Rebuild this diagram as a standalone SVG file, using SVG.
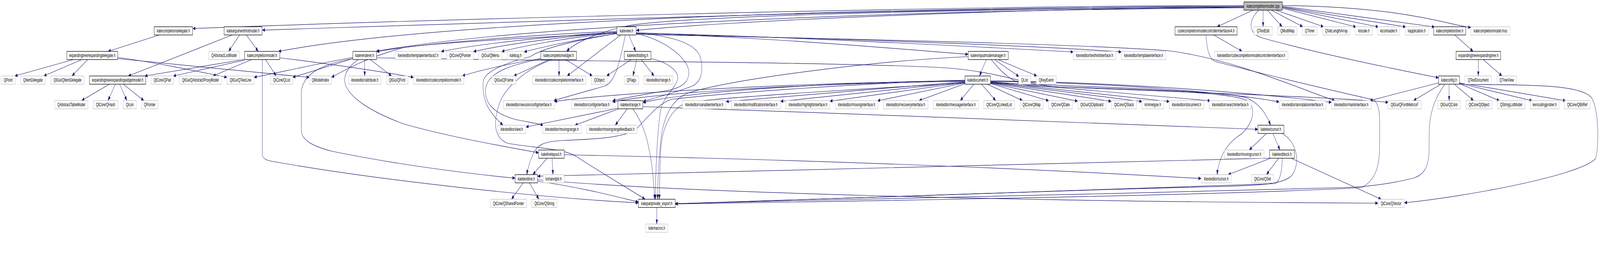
<svg xmlns="http://www.w3.org/2000/svg" width="7138" height="709" viewBox="0 0 7138 709" preserveAspectRatio="none">
<style>
svg{width:100%;height:100%}
.n rect{fill:#fff;stroke:#bfbfbf;stroke-width:1.3}
.b rect{stroke:#000}
.r rect{fill:#bfbfbf;stroke:#000}
text{font-family:"Liberation Sans",Arial,Helvetica,sans-serif;font-size:13px;text-anchor:middle;fill:#000}
.e path{fill:none;stroke:#191970;stroke-width:1.2;marker-end:url(#ah)}
</style>
<defs>
<marker id="ah" viewBox="0 0 12 9" markerWidth="12" markerHeight="9" refX="12" refY="4.5" orient="auto" markerUnits="userSpaceOnUse"><path d="M0,0 L12,4.5 L0,9 z" fill="#191970" stroke="#191970" stroke-width="0.5"/></marker>
</defs>
<rect width="7138" height="709" fill="#fff"/>
<g id="edges" class="e">
<path d="M5549,17 C3600,20 1900,60 1242,131.5"/>
<path d="M5635,26 L5635,68.5"/>
<path d="M5654,26 L5720,68.5"/>
<path d="M5672,26 L5812,68.5"/>
<path d="M5692,26 L5905,68.5"/>
<path d="M5721,21 L6050,69"/>
<path d="M5721,19 L6150,69"/>
<path d="M5721,18 L6272,69"/>
<path d="M5721,16 L6400,69"/>
<path d="M5721,14 C6300,18 6480,68 6562,70"/>
<path d="M5549,19 C4000,24 3000,45 2800,66 C2650,85 2560,112 2528,131.5"/>
<path d="M5549,14 C4200,15 1900,50 860,73"/>
<path d="M5549,16 C4200,18 2000,62 1170,77"/>
<path d="M5549,18 C4500,22 3200,55 2839,78"/>
<path d="M5549,20 C4000,26 2300,65 1678,131.5"/>
<path d="M5616,26 C5570,50 5565,85 5630,97 C5900,140 6250,180 6418,199"/>
<path d="M5590,26 L5430,68.5"/>
<path d="M711,89.5 L482,131.5"/>
<path d="M327,152.5 L66,194.5"/>
<path d="M365,152.5 L195,194.5"/>
<path d="M391,152.5 L321,194.5"/>
<path d="M525,147 C700,160 900,185 1013,198"/>
<path d="M525,150 C800,165 1200,190 1380,198"/>
<path d="M1069,89.5 L1020,131.5"/>
<path d="M1099,89.5 L1152,131.5"/>
<path d="M1036,89.5 L572,194.5"/>
<path d="M1091,152 L646,194.5"/>
<path d="M1091,154 L773,194.5"/>
<path d="M1122,152.5 L950,194.5"/>
<path d="M1185,152.5 L1232,194.5"/>
<path d="M1248,148 C1500,165 1750,188 1845,198"/>
<path d="M1170,152.5 L1170,394 C1170,405 1185,410 1215,413 C1700,463 2450,508 2848,519"/>
<path d="M488,215.5 L364,257.5"/>
<path d="M515,215.5 L482,257.5"/>
<path d="M534,215.5 L566,257.5"/>
<path d="M550,215.5 L642,257.5"/>
<path d="M1627,152.5 L1627,194.5"/>
<path d="M1652,152.5 L1747,194.5"/>
<path d="M1574,150 L1306,198"/>
<path d="M1574,147 C1400,165 1250,185 1133,198"/>
<path d="M1598,152.5 C1555,170 1530,190 1540,215 C1560,250 1650,285 1800,317 C2000,350 2250,375 2403,391"/>
<path d="M1574,150 C1430,165 1345,190 1344,240 L1344,333 C1345,360 1400,375 1480,387 C1800,425 2150,448 2298,456"/>
<path d="M1680,148 C2600,158 3700,158 4200,173 C4450,182 4560,214 4700,222 C5300,236 6000,250 6194,262"/>
<path d="M2450,152.5 L2292,194.5"/>
<path d="M2413,150 C2300,160 2150,178 2062,194.5"/>
<path d="M2494,152.5 L2494,194.5"/>
<path d="M2523,152.5 L2643,194.5"/>
<path d="M2413,151 C2290,165 2180,182 2167,225 C2158,262 2200,290 2300,306 C2370,314 2405,316 2424,321.5"/>
<path d="M2463,152.5 C2340,178 2255,225 2230,262 C2200,310 2200,352 2265,367 C2400,380 2520,380 2575,402 C2690,445 2810,485 2878,510"/>
<path d="M2752,86 C2600,100 2420,122 2366,145 C2250,162 2170,182 2157,205 C2150,235 2162,262 2185,282 C2205,300 2228,312 2244,320.5"/>
<path d="M2838,84 C3600,96 4300,118 4788,133"/>
<path d="M2838,86 C3700,98 4600,116 5003,133"/>
<path d="M2752,82 C2400,95 2100,116 1968,132"/>
<path d="M2752,83 C2450,96 2220,118 2112,132"/>
<path d="M2752,84 C2500,98 2320,120 2238,132"/>
<path d="M2752,86 C2560,102 2400,123 2338,133"/>
<path d="M2752,85 C2300,98 1900,112 1800,122 C1650,145 1550,175 1479,198"/>
<path d="M2769,89.5 L2530,194.5"/>
<path d="M2790,89.5 C2765,160 2745,208 2700,220 C2600,236 2510,250 2470,258"/>
<path d="M2805,89.5 L2836,131.5"/>
<path d="M2838,86 C2960,100 3078,150 3073,188 C3070,205 3060,218 3000,229 C2900,240 2780,250 2733,258"/>
<path d="M2838,84 C3000,92 3112,112 3126,150 C3140,185 3125,210 3090,220 C3000,240 2920,250 2869,260"/>
<path d="M2838,85 C3500,98 4000,125 4319,139"/>
<path d="M2752,80 C2400,88 1900,110 1680,132"/>
<path d="M2838,88 C3800,100 4800,112 5213,130 C5500,150 5800,228 5955,257.5"/>
<path d="M2816,152.5 L2706,194.5"/>
<path d="M2840,152.5 L2824,194.5"/>
<path d="M2861,152.5 L2918,194.5"/>
<path d="M2904,150 C2985,160 3035,185 3022,205 C3010,228 2962,245 2948,280 C2932,330 2924,450 2924,510"/>
<path d="M4400,152.5 L4370,194.5"/>
<path d="M4437,152.5 L4546,196"/>
<path d="M4452,152.5 L4626,194.5"/>
<path d="M4422,152.5 C4470,185 4510,212 4600,220 C5000,228 5450,232 5560,256 C5615,275 5585,328 5520,350 C5462,375 5436,410 5430,447"/>
<path d="M4319,145 C3900,156 3300,200 3080,236 C2995,252 2962,300 2950,350 C2940,400 2934,460 2934,510"/>
<path d="M4345,215.5 L4284,257.5"/>
<path d="M4305,214 L4100,257.5"/>
<path d="M4305,212 L3914,258"/>
<path d="M4305,211 L3702,259"/>
<path d="M4305,210 L3482,259.5"/>
<path d="M4305,209 L3239,260"/>
<path d="M4305,208 C3500,215 2900,240 2733,261"/>
<path d="M4305,207 C3500,212 2700,240 2473,260"/>
<path d="M4305,206 C3600,212 3000,240 2869,263"/>
<path d="M4305,205 C3800,214 3200,240 3000,254 C2950,260 2900,292 2840,330 C2780,356 2600,357 2500,360 C2420,363 2398,372 2380,392 C2364,412 2355,430 2350,447"/>
<path d="M4305,213 C3900,225 3200,250 3070,262 C2990,275 2955,330 2948,380 C2944,430 2942,470 2942,510"/>
<path d="M4419,212 C4800,220 5450,232 5560,250 C5620,265 5650,292 5668,320.5"/>
<path d="M4379,215.5 L4442,257.5"/>
<path d="M4404,215.5 L4562,257.5"/>
<path d="M4419,214 L4679,258"/>
<path d="M4419,213 L4808,259"/>
<path d="M4419,212 L4958,259.5"/>
<path d="M4419,211 L5095,260"/>
<path d="M4419,210 L5217,260"/>
<path d="M4419,209 L5400,258"/>
<path d="M4419,208 C5000,213 5500,238 5707,261"/>
<path d="M4419,207 C5000,210 5600,238 5940,262"/>
<path d="M6418,212 L6111,257.5"/>
<path d="M6428,215.5 L6306,257.5"/>
<path d="M6465,215.5 L6465,257.5"/>
<path d="M6488,215.5 L6574,257.5"/>
<path d="M6511,214 L6690,258"/>
<path d="M6511,213 L6836,258"/>
<path d="M6511,212 L6986,258"/>
<path d="M6511,216 C6800,218 7050,214 7100,250 C7136,282 7132,382 7118,406 C7050,450 6520,505 6265,519"/>
<path d="M6446,215.5 C6392,258 6376,300 6376,340 C6376,400 6382,442 6306,456 C6200,471 6100,478 6000,480 C5000,495 3600,515 3012,521"/>
<path d="M6595,152.5 L6595,194.5"/>
<path d="M6617,152.5 L6701,194.5"/>
<path d="M6490,89.5 L6572,131.5"/>
<path d="M5415,89.5 L5541,131.5"/>
<path d="M5380,89.5 C5385,130 5395,150 5420,157 C5700,200 6050,245 6130,256 C6158,272 6155,300 6155,340 C6155,400 6160,452 6077,480 C5500,500 3600,517 3012,522"/>
<path d="M5650,341.5 L5573,384"/>
<path d="M5679,341.5 L5710,384"/>
<path d="M5720,341.5 C5790,365 5802,420 5762,450 C5722,470 5650,475 5400,478 C4500,490 3500,515 3012,521.5"/>
<path d="M5668,405 L5479,447"/>
<path d="M5704,405 L5650,447"/>
<path d="M5664,405 C5000,424 3500,432 2398,451"/>
<path d="M5720,405 C5720,432 5714,460 5690,470 C5500,481 4500,501 3012,522"/>
<path d="M5760,405 L6162,510"/>
<path d="M2463,405 L2467,447"/>
<path d="M2441,405 L2377,447"/>
<path d="M2517,396 C3500,408 4500,428 5359,457"/>
<path d="M2334,468 L2282,510"/>
<path d="M2362,468 L2404,510"/>
<path d="M2398,464 C2600,480 2760,505 2848,517"/>
<path d="M2398,460 C3000,492 4500,516 6148,520"/>
<path d="M2757,277 L2346,325"/>
<path d="M2760,278.5 L2565,320.5"/>
<path d="M2798,278.5 L2745,320.5"/>
<path d="M2823,278.5 C2850,300 2878,330 2895,380 C2910,420 2918,470 2920,510"/>
<path d="M2868,273 C3800,288 4800,320 5612,331"/>
<path d="M2930,531 L2930,573.5"/>
</g>
<g id="n_cpp" class="n r"><rect x="5549" y="5" width="172" height="21"/><text x="5635" y="20">katecompletionmodel.cpp</text></g>
<g id="n_deleg" class="n b"><rect x="688" y="68.5" width="171" height="21"/><text x="773.5" y="83.5">katecompletiondelegate.h</text></g>
<g id="n_arghint" class="n b"><rect x="1000" y="68.5" width="169" height="21"/><text x="1084.5" y="83.5">kateargumenthintmodel.h</text></g>
<g id="n_view" class="n b"><rect x="2752" y="68.5" width="86" height="21"/><text x="2795" y="83.5">kateview.h</text></g>
<g id="n_v4" class="n b"><rect x="5242" y="68.5" width="277" height="21"/><text x="5380.5" y="83.5">codecompletionmodelcontrollerinterfacev4.h</text></g>
<g id="n_qtextedit" class="n"><rect x="5594" y="68.5" width="82" height="21"/><text x="5635" y="83.5">QTextEdit</text></g>
<g id="n_qmultimap" class="n"><rect x="5701" y="68.5" width="85" height="21"/><text x="5743.5" y="83.5">QMultiMap</text></g>
<g id="n_qtimer" class="n"><rect x="5810" y="68.5" width="66" height="21"/><text x="5843" y="83.5">QTimer</text></g>
<g id="n_qvla" class="n"><rect x="5901" y="68.5" width="122" height="21"/><text x="5962" y="83.5">QVarLengthArray</text></g>
<g id="n_klocale" class="n"><rect x="6047" y="68.5" width="75" height="21"/><text x="6084.5" y="83.5">klocale.h</text></g>
<g id="n_kicon" class="n"><rect x="6146" y="68.5" width="98" height="21"/><text x="6195" y="83.5">kiconloader.h</text></g>
<g id="n_kapp" class="n"><rect x="6269" y="68.5" width="103" height="21"/><text x="6320.5" y="83.5">kapplication.h</text></g>
<g id="n_ctree" class="n b"><rect x="6396" y="68.5" width="143" height="21"/><text x="6467.5" y="83.5">katecompletiontree.h</text></g>
<g id="n_moc" class="n"><rect x="6562" y="68.5" width="175" height="21"/><text x="6649.5" y="83.5">katecompletionmodel.moc</text></g>
<g id="n_edeleg" class="n b"><rect x="298" y="131.5" width="227" height="21"/><text x="411.5" y="146.5">expandingtree/expandingdelegate.h</text></g>
<g id="n_qalm" class="n"><rect x="931" y="131.5" width="137" height="21"/><text x="999.5" y="146.5">QAbstractListModel</text></g>
<g id="n_cmodel" class="n b"><rect x="1091" y="131.5" width="157" height="21"/><text x="1169.5" y="146.5">katecompletionmodel.h</text></g>
<g id="n_renderer" class="n b"><rect x="1574" y="131.5" width="106" height="21"/><text x="1627" y="146.5">katerenderer.h</text></g>
<g id="n_tmpl2" class="n"><rect x="1763" y="131.5" width="205" height="21"/><text x="1865.5" y="146.5">ktexteditor/templateinterface2.h</text></g>
<g id="n_qtpointer" class="n"><rect x="1993" y="131.5" width="119" height="21"/><text x="2052.5" y="146.5">QtCore/QPointer</text></g>
<g id="n_qmenu" class="n"><rect x="2136" y="131.5" width="103" height="21"/><text x="2187.5" y="146.5">QtGui/QMenu</text></g>
<g id="n_kdebug" class="n"><rect x="2263" y="131.5" width="75" height="21"/><text x="2300.5" y="146.5">kdebug.h</text></g>
<g id="n_cwidget" class="n b"><rect x="2413" y="131.5" width="159" height="21"/><text x="2492.5" y="146.5">katecompletionwidget.h</text></g>
<g id="n_folding" class="n b"><rect x="2785" y="131.5" width="119" height="21"/><text x="2844.5" y="146.5">katetextfolding.h</text></g>
<g id="n_vimm" class="n b"><rect x="4319" y="131.5" width="179" height="21"/><text x="4408.5" y="146.5">kateviinputmodemanager.h</text></g>
<g id="n_texthint" class="n"><rect x="4788" y="131.5" width="190" height="21"/><text x="4883" y="146.5">ktexteditor/texthintinterface.h</text></g>
<g id="n_tmpl" class="n"><rect x="5003" y="131.5" width="198" height="21"/><text x="5102" y="146.5">ktexteditor/templateinterface.h</text></g>
<g id="n_ccmci" class="n"><rect x="5418" y="131.5" width="328" height="21"/><text x="5582" y="146.5">ktexteditor/codecompletionmodelcontrollerinterface.h</text></g>
<g id="n_etree" class="n b"><rect x="6496" y="131.5" width="199" height="21"/><text x="6595.5" y="146.5">expandingtree/expandingtree.h</text></g>
<g id="n_qpoint" class="n"><rect x="5" y="194.5" width="63" height="21"/><text x="36.5" y="209.5">QPoint</text></g>
<g id="n_qitemdel" class="n"><rect x="92" y="194.5" width="110" height="21"/><text x="147" y="209.5">QItemDelegate</text></g>
<g id="n_qtguiitemdel" class="n"><rect x="227" y="194.5" width="148" height="21"/><text x="301" y="209.5">QtGui/QItemDelegate</text></g>
<g id="n_ewmodel" class="n b"><rect x="399" y="194.5" width="251" height="21"/><text x="524.5" y="209.5">expandingtree/expandingwidgetmodel.h</text></g>
<g id="n_qpair" class="n"><rect x="674" y="194.5" width="101" height="21"/><text x="724.5" y="209.5">QtCore/QPair</text></g>
<g id="n_qapm" class="n"><rect x="800" y="194.5" width="188" height="21"/><text x="894" y="209.5">QtGui/QAbstractProxyModel</text></g>
<g id="n_qtextline" class="n"><rect x="1013" y="194.5" width="120" height="21"/><text x="1073" y="209.5">QtGui/QTextLine</text></g>
<g id="n_qtlist" class="n"><rect x="1207" y="194.5" width="99" height="21"/><text x="1256.5" y="209.5">QtCore/QList</text></g>
<g id="n_qmodelindex" class="n"><rect x="1380" y="194.5" width="99" height="21"/><text x="1429.5" y="209.5">QModelIndex</text></g>
<g id="n_attr" class="n"><rect x="1555" y="194.5" width="145" height="21"/><text x="1627.5" y="209.5">ktexteditor/attribute.h</text></g>
<g id="n_qfont" class="n"><rect x="1724" y="194.5" width="96" height="21"/><text x="1772" y="209.5">QtGui/QFont</text></g>
<g id="n_ccmodel" class="n"><rect x="1845" y="194.5" width="224" height="21"/><text x="1957" y="209.5">ktexteditor/codecompletionmodel.h</text></g>
<g id="n_qframe" class="n"><rect x="2194" y="194.5" width="107" height="21"/><text x="2247.5" y="209.5">QtGui/QFrame</text></g>
<g id="n_ccif" class="n"><rect x="2376" y="194.5" width="238" height="21"/><text x="2495" y="209.5">ktexteditor/codecompletioninterface.h</text></g>
<g id="n_qobject" class="n"><rect x="2638" y="194.5" width="71" height="21"/><text x="2673.5" y="209.5">QObject</text></g>
<g id="n_qflags" class="n"><rect x="2785" y="194.5" width="64" height="21"/><text x="2817" y="209.5">QFlags</text></g>
<g id="n_range" class="n"><rect x="2873" y="194.5" width="129" height="21"/><text x="2937.5" y="209.5">ktexteditor/range.h</text></g>
<g id="n_doc" class="n b"><rect x="4305" y="194.5" width="114" height="21"/><text x="4362" y="209.5">katedocument.h</text></g>
<g id="n_qlist" class="n"><rect x="4544" y="194.5" width="54" height="21"/><text x="4571" y="209.5">QList</text></g>
<g id="n_qkeyevent" class="n"><rect x="4623" y="194.5" width="89" height="21"/><text x="4667.5" y="209.5">QKeyEvent</text></g>
<g id="n_config" class="n b"><rect x="6418" y="194.5" width="93" height="21"/><text x="6464.5" y="209.5">kateconfig.h</text></g>
<g id="n_qtextdoc" class="n"><rect x="6535" y="194.5" width="119" height="21"/><text x="6594.5" y="209.5">QTextDocument</text></g>
<g id="n_qtreeview" class="n"><rect x="6679" y="194.5" width="86" height="21"/><text x="6722" y="209.5">QTreeView</text></g>
<g id="n_qatm" class="n"><rect x="244" y="257.5" width="148" height="21"/><text x="318" y="272.5">QAbstractTableModel</text></g>
<g id="n_qhash" class="n"><rect x="416" y="257.5" width="110" height="21"/><text x="471" y="272.5">QtCore/QHash</text></g>
<g id="n_qicon" class="n"><rect x="550" y="257.5" width="58" height="21"/><text x="579" y="272.5">QIcon</text></g>
<g id="n_qpointer" class="n"><rect x="631" y="257.5" width="74" height="21"/><text x="668" y="272.5">QPointer</text></g>
<g id="n_sessioncfg" class="n"><rect x="2246" y="257.5" width="227" height="21"/><text x="2359.5" y="272.5">ktexteditor/sessionconfiginterface.h</text></g>
<g id="n_cfgif" class="n"><rect x="2549" y="257.5" width="183" height="21"/><text x="2640.5" y="272.5">ktexteditor/configinterface.h</text></g>
<g id="n_trange" class="n b"><rect x="2757" y="257.5" width="111" height="21"/><text x="2812.5" y="272.5">katetextrange.h</text></g>
<g id="n_varif" class="n"><rect x="3045" y="257.5" width="194" height="21"/><text x="3142" y="272.5">ktexteditor/variableinterface.h</text></g>
<g id="n_modif" class="n"><rect x="3263" y="257.5" width="219" height="21"/><text x="3372.5" y="272.5">ktexteditor/modificationinterface.h</text></g>
<g id="n_hlif" class="n"><rect x="3506" y="257.5" width="197" height="21"/><text x="3604.5" y="272.5">ktexteditor/highlightinterface.h</text></g>
<g id="n_movif" class="n"><rect x="3726" y="257.5" width="191" height="21"/><text x="3821.5" y="272.5">ktexteditor/movinginterface.h</text></g>
<g id="n_recif" class="n"><rect x="3941" y="257.5" width="199" height="21"/><text x="4040.5" y="272.5">ktexteditor/recoveryinterface.h</text></g>
<g id="n_msgif" class="n"><rect x="4164" y="257.5" width="201" height="21"/><text x="4264.5" y="272.5">ktexteditor/messageinterface.h</text></g>
<g id="n_qlinked" class="n"><rect x="4389" y="257.5" width="137" height="21"/><text x="4457.5" y="272.5">QtCore/QLinkedList</text></g>
<g id="n_qmap" class="n"><rect x="4551" y="257.5" width="102" height="21"/><text x="4602" y="272.5">QtCore/QMap</text></g>
<g id="n_qdate" class="n"><rect x="4678" y="257.5" width="106" height="21"/><text x="4731" y="272.5">QtCore/QDate</text></g>
<g id="n_qclip" class="n"><rect x="4808" y="257.5" width="126" height="21"/><text x="4871" y="272.5">QtGui/QClipboard</text></g>
<g id="n_qstack" class="n"><rect x="4958" y="257.5" width="112" height="21"/><text x="5014" y="272.5">QtCore/QStack</text></g>
<g id="n_kmime" class="n"><rect x="5094" y="257.5" width="98" height="21"/><text x="5143" y="272.5">kmimetype.h</text></g>
<g id="n_docif" class="n"><rect x="5216" y="257.5" width="155" height="21"/><text x="5293.5" y="272.5">ktexteditor/document.h</text></g>
<g id="n_searchif" class="n"><rect x="5395" y="257.5" width="187" height="21"/><text x="5488.5" y="272.5">ktexteditor/searchinterface.h</text></g>
<g id="n_annoif" class="n"><rect x="5707" y="257.5" width="208" height="21"/><text x="5811" y="272.5">ktexteditor/annotationinterface.h</text></g>
<g id="n_markif" class="n"><rect x="5940" y="257.5" width="177" height="21"/><text x="6028.5" y="272.5">ktexteditor/markinterface.h</text></g>
<g id="n_qfm" class="n"><rect x="6192" y="257.5" width="148" height="21"/><text x="6266" y="272.5">QtGui/QFontMetricsF</text></g>
<g id="n_qcolor" class="n"><rect x="6414" y="257.5" width="101" height="21"/><text x="6464.5" y="272.5">QtGui/QColor</text></g>
<g id="n_qtobject" class="n"><rect x="6540" y="257.5" width="116" height="21"/><text x="6598" y="272.5">QtCore/QObject</text></g>
<g id="n_qslm" class="n"><rect x="6680" y="257.5" width="123" height="21"/><text x="6741.5" y="272.5">QStringListModel</text></g>
<g id="n_kenc" class="n"><rect x="6827" y="257.5" width="128" height="21"/><text x="6891" y="272.5">kencodingprober.h</text></g>
<g id="n_qbitref" class="n"><rect x="6979" y="257.5" width="115" height="21"/><text x="7036.5" y="272.5">QtCore/QBitRef</text></g>
<g id="n_viewh" class="n"><rect x="2221" y="320.5" width="125" height="21"/><text x="2283.5" y="335.5">ktexteditor/view.h</text></g>
<g id="n_movrange" class="n"><rect x="2421" y="320.5" width="172" height="21"/><text x="2507" y="335.5">ktexteditor/movingrange.h</text></g>
<g id="n_movrfb" class="n"><rect x="2617" y="320.5" width="225" height="21"/><text x="2729.5" y="335.5">ktexteditor/movingrangefeedback.h</text></g>
<g id="n_tcursor" class="n b"><rect x="5612" y="320.5" width="116" height="21"/><text x="5670" y="335.5">katetextcursor.h</text></g>
<g id="n_linelayout" class="n b"><rect x="2403" y="384" width="114" height="21"/><text x="2460" y="399">katelinelayout.h</text></g>
<g id="n_movcursor" class="n"><rect x="5463" y="384" width="176" height="21"/><text x="5551" y="399">ktexteditor/movingcursor.h</text></g>
<g id="n_tblock" class="n b"><rect x="5664" y="384" width="111" height="21"/><text x="5719.5" y="399">katetextblock.h</text></g>
<g id="n_textline" class="n b"><rect x="2298" y="447" width="100" height="21"/><text x="2348" y="462">katetextline.h</text></g>
<g id="n_ksharedptr" class="n"><rect x="2423" y="447" width="94" height="21"/><text x="2470" y="462">ksharedptr.h</text></g>
<g id="n_cursor" class="n"><rect x="5359" y="447" width="134" height="21"/><text x="5426" y="462">ktexteditor/cursor.h</text></g>
<g id="n_qset" class="n"><rect x="5583" y="447" width="99" height="21"/><text x="5632.5" y="462">QtCore/QSet</text></g>
<g id="n_qsp" class="n"><rect x="2188" y="510" width="161" height="21"/><text x="2268.5" y="525">QtCore/QSharedPointer</text></g>
<g id="n_qstring" class="n"><rect x="2372" y="510" width="113" height="21"/><text x="2428.5" y="525">QtCore/QString</text></g>
<g id="n_export" class="n b"><rect x="2848" y="510" width="164" height="21"/><text x="2930" y="525">katepartprivate_export.h</text></g>
<g id="n_qvector" class="n"><rect x="6148" y="510" width="116" height="21"/><text x="6206" y="525">QtCore/QVector</text></g>
<g id="n_kdemacros" class="n"><rect x="2881" y="573.5" width="98" height="21"/><text x="2930" y="588.5">kdemacros.h</text></g>
</svg>
